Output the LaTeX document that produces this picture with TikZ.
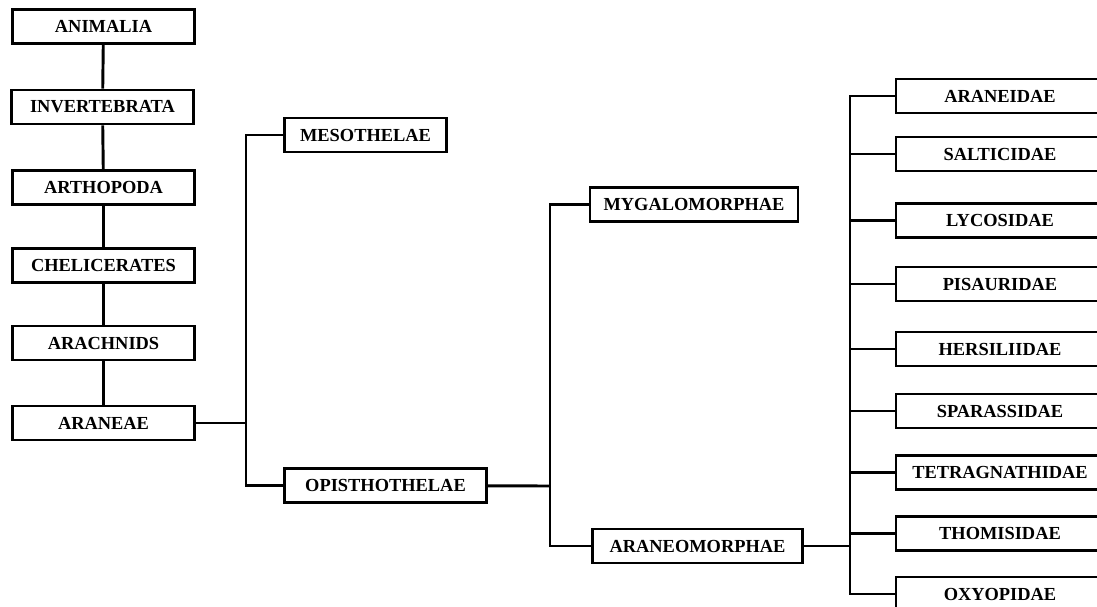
\documentclass[tikz,border=0pt]{standalone}
\usepackage{fontspec}
\setmainfont{Liberation Serif}
\usepackage{tikz}
\usetikzlibrary{positioning, calc}
\tikzset{
  taxon/.style = {rectangle, draw=black, fill=white, line width=2.1pt, align=center,
                  font=\fontsize{13.8}{16}\selectfont\bfseries, minimum height=25.5pt, inner sep=2pt},
  leftcol/.style = {taxon, minimum width=137pt},
  famcol/.style  = {taxon, minimum width=156pt},
  link/.style    = {line width=2.2pt, draw=black},
}
\begin{document}
\begin{tikzpicture}[x=0.75pt, y=-0.75pt]
        \useasboundingbox (0,0) rectangle (1097,607);
        \clip (0,0) rectangle (1097,607);
        % main line of ranks
        \node[leftcol] (ani) at (103.5,26.5) {ANIMALIA};
        \node[leftcol] (inv) at (102.5,107)  {INVERTEBRATA};
        \node[leftcol] (art) at (103.5,187.5){ARTHOPODA};
        \node[leftcol] (che) at (103.5,265.5){CHELICERATES};
        \node[leftcol] (ara) at (103.5,343)  {ARACHNIDS};
        \node[leftcol] (arn) at (103.5,423)  {ARANEAE};
        \foreach \x/\y in {ani/inv, inv/art, art/che, che/ara, ara/arn}{\draw[link] (\x) -- (\y);}
        % suborders
        \node[taxon, minimum width=121pt] (mes) at (365.5,135)  {MESOTHELAE};
        \node[taxon, minimum width=151pt] (opi) at (385.5,485.5){OPISTHOTHELAE};
        \coordinate (jsub) at (246,423);
        \draw[link] (arn) -- (jsub);
        \foreach \y in {mes, opi}{\draw[link] (jsub) |- (\y.west);}
        % infraorders
        \node[taxon, minimum width=156pt] (myg) at (694,204.5)  {MYGALOMORPHAE};
        \node[taxon, minimum width=157pt] (anm) at (697.5,546)  {ARANEOMORPHAE};
        \coordinate (jinf) at (550,486);
        \draw[link] (opi) -- (jinf);
        \foreach \y in {myg, anm}{\draw[link] (jinf) |- (\y.west);}
        % families
        \node[famcol] (f1) at (1000,96)    {ARANEIDAE};
        \node[famcol] (f2) at (1000,154)   {SALTICIDAE};
        \node[famcol] (f3) at (1000,220.5) {LYCOSIDAE};
        \node[famcol] (f4) at (1000,284)   {PISAURIDAE};
        \node[famcol] (f5) at (1000,349)   {HERSILIIDAE};
        \node[famcol] (f6) at (1000,411)   {SPARASSIDAE};
        \node[famcol] (f7) at (1000,472.5) {TETRAGNATHIDAE};
        \node[famcol] (f8) at (1000,533.5) {THOMISIDAE};
        \node[famcol] (f9) at (1000,594)   {OXYOPIDAE};
        \coordinate (jfam) at (850,546);
        \draw[link] (anm) -- (jfam);
        \foreach \y in {f1,f2,f3,f4,f5,f6,f7,f8,f9}{\draw[link] (jfam) |- (\y.west);}
    \end{tikzpicture}
\end{document}
